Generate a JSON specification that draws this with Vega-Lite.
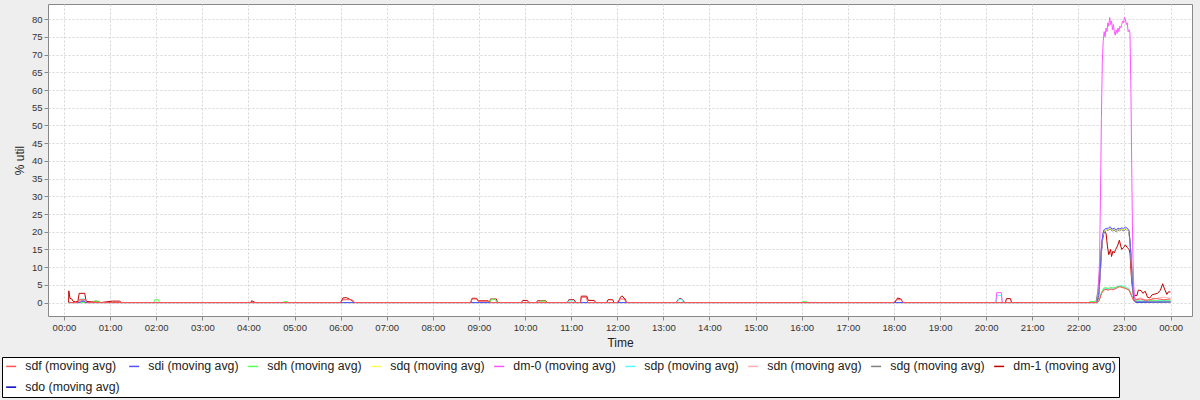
{
"$schema":"https://vega.github.io/schema/vega-lite/v6.json",
"width":1144,"height":312,
"autosize":{"type":"none"},
"padding":{"left":48,"top":4,"right":8,"bottom":84},
"background":"#EEEEEE",
"config":{"view":{"fill":"white","stroke":"#888888","strokeWidth":1},
"axis":{"labelFont":"Liberation Sans","titleFont":"Liberation Sans","labelColor":"#333333","titleColor":"#222222","titleFontWeight":"normal","gridColor":"#D6D6D6","gridDash":[2,2],"domain":false,"tickColor":"#888888","tickSize":4}},
"data":{"values":[
{"s":"sdo","h":0.1,"v":0},{"s":"sdo","h":0.35,"v":0},{"s":"sdo","h":0.37,"v":0.3},{"s":"sdo","h":0.44,"v":0.3},{"s":"sdo","h":0.46,"v":0},{"s":"sdo","h":22.40,"v":0},{"s":"sdo","h":22.44,"v":1.5},{"s":"sdo","h":22.47,"v":7},{"s":"sdo","h":22.5,"v":14},{"s":"sdo","h":22.53,"v":18.3},{"s":"sdo","h":22.56,"v":19.9},{"s":"sdo","h":22.6,"v":20.3},{"s":"sdo","h":22.65,"v":20.5},{"s":"sdo","h":22.69,"v":20.8},{"s":"sdo","h":22.73,"v":20.2},{"s":"sdo","h":22.78,"v":20.5},{"s":"sdo","h":22.82,"v":20.0},{"s":"sdo","h":22.86,"v":20.4},{"s":"sdo","h":22.9,"v":20.3},{"s":"sdo","h":22.94,"v":20.6},{"s":"sdo","h":22.98,"v":20.3},{"s":"sdo","h":23.02,"v":20.7},{"s":"sdo","h":23.06,"v":20.5},{"s":"sdo","h":23.1,"v":19.9},{"s":"sdo","h":23.13,"v":15},{"s":"sdo","h":23.17,"v":6},{"s":"sdo","h":23.2,"v":1},{"s":"sdo","h":23.24,"v":0.1},{"s":"sdo","h":24.0,"v":0.1},
{"s":"dm-1","h":0.1,"v":0},{"s":"dm-1","h":0.105,"v":3.3},{"s":"dm-1","h":0.13,"v":1.2},{"s":"dm-1","h":0.17,"v":1.0},{"s":"dm-1","h":0.2,"v":0.3},{"s":"dm-1","h":0.25,"v":0.2},{"s":"dm-1","h":0.3,"v":0.3},{"s":"dm-1","h":0.33,"v":2.6},{"s":"dm-1","h":0.45,"v":2.6},{"s":"dm-1","h":0.48,"v":0.3},{"s":"dm-1","h":0.6,"v":0.2},{"s":"dm-1","h":0.7,"v":0.4},{"s":"dm-1","h":0.8,"v":0},{"s":"dm-1","h":1.05,"v":0.4},{"s":"dm-1","h":1.2,"v":0.4},{"s":"dm-1","h":1.25,"v":0},{"s":"dm-1","h":4.05,"v":0},{"s":"dm-1","h":4.07,"v":0.5},{"s":"dm-1","h":4.15,"v":0},{"s":"dm-1","h":6.0,"v":0},{"s":"dm-1","h":6.05,"v":1.3},{"s":"dm-1","h":6.12,"v":1.4},{"s":"dm-1","h":6.22,"v":0.8},{"s":"dm-1","h":6.3,"v":0},{"s":"dm-1","h":8.82,"v":0},{"s":"dm-1","h":8.85,"v":1.2},{"s":"dm-1","h":8.95,"v":1.2},{"s":"dm-1","h":8.98,"v":0.5},{"s":"dm-1","h":9.2,"v":0.5},{"s":"dm-1","h":9.23,"v":0},{"s":"dm-1","h":9.25,"v":1.0},{"s":"dm-1","h":9.38,"v":1.0},{"s":"dm-1","h":9.4,"v":0},{"s":"dm-1","h":9.92,"v":0},{"s":"dm-1","h":9.95,"v":0.6},{"s":"dm-1","h":10.05,"v":0.6},{"s":"dm-1","h":10.08,"v":0},{"s":"dm-1","h":10.25,"v":0},{"s":"dm-1","h":10.27,"v":0.5},{"s":"dm-1","h":10.45,"v":0.5},{"s":"dm-1","h":10.48,"v":0},{"s":"dm-1","h":10.92,"v":0},{"s":"dm-1","h":10.95,"v":0.8},{"s":"dm-1","h":11.06,"v":0.8},{"s":"dm-1","h":11.1,"v":0},{"s":"dm-1","h":11.2,"v":0},{"s":"dm-1","h":11.22,"v":1.8},{"s":"dm-1","h":11.34,"v":1.8},{"s":"dm-1","h":11.37,"v":0.6},{"s":"dm-1","h":11.5,"v":0.6},{"s":"dm-1","h":11.53,"v":0},{"s":"dm-1","h":11.77,"v":0},{"s":"dm-1","h":11.8,"v":0.8},{"s":"dm-1","h":11.9,"v":0.8},{"s":"dm-1","h":11.93,"v":0},{"s":"dm-1","h":12.02,"v":0},{"s":"dm-1","h":12.07,"v":1.5},{"s":"dm-1","h":12.1,"v":1.9},{"s":"dm-1","h":12.17,"v":1.0},{"s":"dm-1","h":12.2,"v":0},{"s":"dm-1","h":13.28,"v":0},{"s":"dm-1","h":13.33,"v":1.0},{"s":"dm-1","h":13.38,"v":1.2},{"s":"dm-1","h":13.43,"v":0.5},{"s":"dm-1","h":13.46,"v":0},{"s":"dm-1","h":18.02,"v":0},{"s":"dm-1","h":18.08,"v":1.3},{"s":"dm-1","h":18.15,"v":1.0},{"s":"dm-1","h":18.2,"v":0},{"s":"dm-1","h":20.42,"v":0},{"s":"dm-1","h":20.44,"v":1.1},{"s":"dm-1","h":20.53,"v":1.1},{"s":"dm-1","h":20.55,"v":0},{"s":"dm-1","h":22.40,"v":0},{"s":"dm-1","h":22.43,"v":1.5},{"s":"dm-1","h":22.46,"v":7},{"s":"dm-1","h":22.51,"v":17},{"s":"dm-1","h":22.55,"v":20.3},{"s":"dm-1","h":22.6,"v":19.6},{"s":"dm-1","h":22.63,"v":16},{"s":"dm-1","h":22.66,"v":13.5},{"s":"dm-1","h":22.7,"v":15},{"s":"dm-1","h":22.72,"v":13},{"s":"dm-1","h":22.75,"v":14.5},{"s":"dm-1","h":22.78,"v":14},{"s":"dm-1","h":22.81,"v":15},{"s":"dm-1","h":22.85,"v":16},{"s":"dm-1","h":22.89,"v":17.6},{"s":"dm-1","h":22.91,"v":16.5},{"s":"dm-1","h":22.94,"v":15},{"s":"dm-1","h":22.98,"v":15.5},{"s":"dm-1","h":23.02,"v":16.3},{"s":"dm-1","h":23.06,"v":15.5},{"s":"dm-1","h":23.1,"v":15},{"s":"dm-1","h":23.12,"v":14},{"s":"dm-1","h":23.15,"v":7.3},{"s":"dm-1","h":23.18,"v":3},{"s":"dm-1","h":23.22,"v":2.0},{"s":"dm-1","h":23.27,"v":2.0},{"s":"dm-1","h":23.3,"v":3.5},{"s":"dm-1","h":23.36,"v":3.4},{"s":"dm-1","h":23.4,"v":2.6},{"s":"dm-1","h":23.45,"v":3.2},{"s":"dm-1","h":23.5,"v":1.5},{"s":"dm-1","h":23.55,"v":1.3},{"s":"dm-1","h":23.6,"v":2.2},{"s":"dm-1","h":23.66,"v":2.4},{"s":"dm-1","h":23.72,"v":2.6},{"s":"dm-1","h":23.78,"v":3.5},{"s":"dm-1","h":23.83,"v":5.3},{"s":"dm-1","h":23.87,"v":3.8},{"s":"dm-1","h":23.92,"v":2.3},{"s":"dm-1","h":23.95,"v":3.0},{"s":"dm-1","h":24.0,"v":3.0},
{"s":"sdg","h":0.1,"v":0},{"s":"sdg","h":22.38,"v":0},{"s":"sdg","h":22.42,"v":3},{"s":"sdg","h":22.46,"v":9},{"s":"sdg","h":22.5,"v":15.5},{"s":"sdg","h":22.53,"v":19},{"s":"sdg","h":22.56,"v":20.1},{"s":"sdg","h":22.6,"v":20.4},{"s":"sdg","h":22.65,"v":20.6},{"s":"sdg","h":22.69,"v":20.8},{"s":"sdg","h":22.73,"v":20.3},{"s":"sdg","h":22.78,"v":20.6},{"s":"sdg","h":22.82,"v":20.1},{"s":"sdg","h":22.86,"v":20.6},{"s":"sdg","h":22.9,"v":20.4},{"s":"sdg","h":22.94,"v":20.7},{"s":"sdg","h":22.98,"v":20.5},{"s":"sdg","h":23.02,"v":20.8},{"s":"sdg","h":23.06,"v":20.5},{"s":"sdg","h":23.1,"v":19.9},{"s":"sdg","h":23.13,"v":16},{"s":"sdg","h":23.17,"v":8},{"s":"sdg","h":23.21,"v":2},{"s":"sdg","h":23.25,"v":0.3},{"s":"sdg","h":24.0,"v":0.2},
{"s":"sdn","h":0.1,"v":0},{"s":"sdn","h":0.33,"v":0},{"s":"sdn","h":0.35,"v":0.6},{"s":"sdn","h":0.45,"v":0.6},{"s":"sdn","h":0.47,"v":0},{"s":"sdn","h":22.40,"v":0},{"s":"sdn","h":22.45,"v":0.5},{"s":"sdn","h":22.5,"v":2.5},{"s":"sdn","h":22.55,"v":3.6},{"s":"sdn","h":22.6,"v":3.7},{"s":"sdn","h":22.65,"v":3.6},{"s":"sdn","h":22.7,"v":3.8},{"s":"sdn","h":22.75,"v":3.7},{"s":"sdn","h":22.8,"v":4.0},{"s":"sdn","h":22.85,"v":4.3},{"s":"sdn","h":22.9,"v":4.6},{"s":"sdn","h":22.95,"v":4.4},{"s":"sdn","h":23.0,"v":4.2},{"s":"sdn","h":23.05,"v":3.9},{"s":"sdn","h":23.1,"v":3.4},{"s":"sdn","h":23.15,"v":2},{"s":"sdn","h":23.2,"v":0.6},{"s":"sdn","h":23.27,"v":1.0},{"s":"sdn","h":23.35,"v":1.3},{"s":"sdn","h":23.45,"v":0.8},{"s":"sdn","h":23.55,"v":0.6},{"s":"sdn","h":23.65,"v":1.0},{"s":"sdn","h":23.75,"v":1.3},{"s":"sdn","h":23.85,"v":1.5},{"s":"sdn","h":23.92,"v":1.4},{"s":"sdn","h":24.0,"v":1.2},
{"s":"sdp","h":0.1,"v":0},{"s":"sdp","h":0.33,"v":0},{"s":"sdp","h":0.35,"v":1.0},{"s":"sdp","h":0.45,"v":1.0},{"s":"sdp","h":0.47,"v":0},{"s":"sdp","h":10.93,"v":0},{"s":"sdp","h":10.95,"v":0.5},{"s":"sdp","h":11.05,"v":0.5},{"s":"sdp","h":11.07,"v":0},{"s":"sdp","h":13.3,"v":0},{"s":"sdp","h":13.33,"v":0.9},{"s":"sdp","h":13.4,"v":0.9},{"s":"sdp","h":13.43,"v":0},{"s":"sdp","h":20.22,"v":0},{"s":"sdp","h":20.24,"v":2.0},{"s":"sdp","h":20.33,"v":2.0},{"s":"sdp","h":20.35,"v":0},{"s":"sdp","h":22.40,"v":0},{"s":"sdp","h":22.45,"v":0.6},{"s":"sdp","h":22.5,"v":2.8},{"s":"sdp","h":22.55,"v":3.9},{"s":"sdp","h":22.6,"v":4.0},{"s":"sdp","h":22.65,"v":3.9},{"s":"sdp","h":22.7,"v":4.1},{"s":"sdp","h":22.75,"v":4.0},{"s":"sdp","h":22.8,"v":4.3},{"s":"sdp","h":22.85,"v":4.5},{"s":"sdp","h":22.9,"v":4.7},{"s":"sdp","h":22.95,"v":4.8},{"s":"sdp","h":23.0,"v":4.5},{"s":"sdp","h":23.05,"v":4.2},{"s":"sdp","h":23.1,"v":3.8},{"s":"sdp","h":23.15,"v":2.2},{"s":"sdp","h":23.2,"v":0.8},{"s":"sdp","h":23.25,"v":0.4},{"s":"sdp","h":23.4,"v":0.5},{"s":"sdp","h":23.6,"v":0.3},{"s":"sdp","h":23.8,"v":0.6},{"s":"sdp","h":24.0,"v":0.4},
{"s":"dm-0","h":0.1,"v":0},{"s":"dm-0","h":20.21,"v":0},{"s":"dm-0","h":20.23,"v":2.8},{"s":"dm-0","h":20.33,"v":2.8},{"s":"dm-0","h":20.35,"v":0},{"s":"dm-0","h":22.40,"v":0},{"s":"dm-0","h":22.43,"v":2},{"s":"dm-0","h":22.46,"v":12},{"s":"dm-0","h":22.48,"v":30},{"s":"dm-0","h":22.5,"v":52},{"s":"dm-0","h":22.52,"v":68},{"s":"dm-0","h":22.54,"v":74},{"s":"dm-0","h":22.56,"v":76.5},{"s":"dm-0","h":22.58,"v":75},{"s":"dm-0","h":22.6,"v":77.5},{"s":"dm-0","h":22.62,"v":76.5},{"s":"dm-0","h":22.64,"v":79},{"s":"dm-0","h":22.66,"v":78},{"s":"dm-0","h":22.68,"v":80.5},{"s":"dm-0","h":22.7,"v":78.5},{"s":"dm-0","h":22.72,"v":79.5},{"s":"dm-0","h":22.74,"v":77},{"s":"dm-0","h":22.76,"v":78.5},{"s":"dm-0","h":22.78,"v":76.5},{"s":"dm-0","h":22.8,"v":75.5},{"s":"dm-0","h":22.82,"v":77},{"s":"dm-0","h":22.84,"v":76},{"s":"dm-0","h":22.86,"v":77.5},{"s":"dm-0","h":22.88,"v":76.5},{"s":"dm-0","h":22.9,"v":78},{"s":"dm-0","h":22.92,"v":77.5},{"s":"dm-0","h":22.94,"v":78.5},{"s":"dm-0","h":22.96,"v":79.5},{"s":"dm-0","h":22.98,"v":79},{"s":"dm-0","h":23.0,"v":80.5},{"s":"dm-0","h":23.02,"v":80},{"s":"dm-0","h":23.04,"v":78.5},{"s":"dm-0","h":23.06,"v":79},{"s":"dm-0","h":23.08,"v":76.5},{"s":"dm-0","h":23.1,"v":77},{"s":"dm-0","h":23.12,"v":76},{"s":"dm-0","h":23.14,"v":60},{"s":"dm-0","h":23.16,"v":35},{"s":"dm-0","h":23.18,"v":15},{"s":"dm-0","h":23.2,"v":5},{"s":"dm-0","h":23.22,"v":1},{"s":"dm-0","h":23.25,"v":0.3},{"s":"dm-0","h":24.0,"v":0.3},
{"s":"sdq","h":0.1,"v":0},{"s":"sdq","h":0.35,"v":0},{"s":"sdq","h":0.37,"v":0.2},{"s":"sdq","h":0.44,"v":0.2},{"s":"sdq","h":0.46,"v":0},{"s":"sdq","h":22.40,"v":0},{"s":"sdq","h":22.44,"v":1.8},{"s":"sdq","h":22.47,"v":7.5},{"s":"sdq","h":22.5,"v":14.5},{"s":"sdq","h":22.53,"v":18.8},{"s":"sdq","h":22.56,"v":20.2},{"s":"sdq","h":22.6,"v":20.3},{"s":"sdq","h":22.65,"v":20.6},{"s":"sdq","h":22.69,"v":20.9},{"s":"sdq","h":22.73,"v":20.3},{"s":"sdq","h":22.78,"v":20.6},{"s":"sdq","h":22.82,"v":20.1},{"s":"sdq","h":22.86,"v":20.5},{"s":"sdq","h":22.9,"v":20.4},{"s":"sdq","h":22.94,"v":20.6},{"s":"sdq","h":22.98,"v":20.5},{"s":"sdq","h":23.02,"v":20.8},{"s":"sdq","h":23.06,"v":20.4},{"s":"sdq","h":23.1,"v":19.9},{"s":"sdq","h":23.13,"v":15},{"s":"sdq","h":23.17,"v":6},{"s":"sdq","h":23.2,"v":1},{"s":"sdq","h":23.24,"v":0.3},{"s":"sdq","h":24.0,"v":0.2},
{"s":"sdh","h":0.1,"v":0},{"s":"sdh","h":0.62,"v":0},{"s":"sdh","h":0.64,"v":0.4},{"s":"sdh","h":0.77,"v":0.4},{"s":"sdh","h":0.79,"v":0},{"s":"sdh","h":1.95,"v":0},{"s":"sdh","h":1.97,"v":0.8},{"s":"sdh","h":2.05,"v":0.8},{"s":"sdh","h":2.07,"v":0},{"s":"sdh","h":4.75,"v":0},{"s":"sdh","h":4.77,"v":0.3},{"s":"sdh","h":4.85,"v":0.3},{"s":"sdh","h":4.87,"v":0},{"s":"sdh","h":9.24,"v":0},{"s":"sdh","h":9.26,"v":0.9},{"s":"sdh","h":9.36,"v":0.9},{"s":"sdh","h":9.38,"v":0},{"s":"sdh","h":10.3,"v":0},{"s":"sdh","h":10.32,"v":0.4},{"s":"sdh","h":10.45,"v":0.4},{"s":"sdh","h":10.47,"v":0},{"s":"sdh","h":16.0,"v":0},{"s":"sdh","h":16.02,"v":0.3},{"s":"sdh","h":16.1,"v":0.3},{"s":"sdh","h":16.12,"v":0},{"s":"sdh","h":22.22,"v":0},{"s":"sdh","h":22.25,"v":0.3},{"s":"sdh","h":22.38,"v":0.3},{"s":"sdh","h":22.40,"v":0},{"s":"sdh","h":22.45,"v":0.6},{"s":"sdh","h":22.5,"v":2.7},{"s":"sdh","h":22.55,"v":4.1},{"s":"sdh","h":22.6,"v":4.2},{"s":"sdh","h":22.65,"v":4.0},{"s":"sdh","h":22.7,"v":4.3},{"s":"sdh","h":22.75,"v":4.1},{"s":"sdh","h":22.8,"v":4.2},{"s":"sdh","h":22.85,"v":4.5},{"s":"sdh","h":22.9,"v":4.6},{"s":"sdh","h":22.95,"v":4.5},{"s":"sdh","h":23.0,"v":4.3},{"s":"sdh","h":23.05,"v":4.0},{"s":"sdh","h":23.1,"v":3.7},{"s":"sdh","h":23.15,"v":2.1},{"s":"sdh","h":23.2,"v":0.7},{"s":"sdh","h":23.25,"v":0.5},{"s":"sdh","h":23.4,"v":0.3},{"s":"sdh","h":23.6,"v":0.6},{"s":"sdh","h":23.8,"v":0.4},{"s":"sdh","h":24.0,"v":0.5},
{"s":"sdi","h":0.1,"v":0},{"s":"sdi","h":0.35,"v":0},{"s":"sdi","h":0.37,"v":0.4},{"s":"sdi","h":0.44,"v":0.4},{"s":"sdi","h":0.46,"v":0},{"s":"sdi","h":22.40,"v":0},{"s":"sdi","h":22.44,"v":2},{"s":"sdi","h":22.47,"v":8},{"s":"sdi","h":22.5,"v":15},{"s":"sdi","h":22.53,"v":19.2},{"s":"sdi","h":22.56,"v":20.6},{"s":"sdi","h":22.6,"v":20.9},{"s":"sdi","h":22.65,"v":21.0},{"s":"sdi","h":22.69,"v":21.4},{"s":"sdi","h":22.73,"v":20.7},{"s":"sdi","h":22.78,"v":21.0},{"s":"sdi","h":22.82,"v":20.5},{"s":"sdi","h":22.86,"v":21.0},{"s":"sdi","h":22.9,"v":20.8},{"s":"sdi","h":22.94,"v":21.1},{"s":"sdi","h":22.98,"v":20.9},{"s":"sdi","h":23.02,"v":21.3},{"s":"sdi","h":23.06,"v":21.0},{"s":"sdi","h":23.1,"v":20.4},{"s":"sdi","h":23.13,"v":15.5},{"s":"sdi","h":23.17,"v":6},{"s":"sdi","h":23.2,"v":1},{"s":"sdi","h":23.23,"v":0.2},{"s":"sdi","h":24.0,"v":0.2},
{"s":"sdf","h":0.1,"v":0},{"s":"sdf","h":0.3,"v":0},{"s":"sdf","h":0.33,"v":0.8},{"s":"sdf","h":0.46,"v":0.8},{"s":"sdf","h":0.5,"v":0},{"s":"sdf","h":6.0,"v":0},{"s":"sdf","h":6.05,"v":0.8},{"s":"sdf","h":6.25,"v":0.8},{"s":"sdf","h":6.3,"v":0},{"s":"sdf","h":8.82,"v":0},{"s":"sdf","h":8.85,"v":1.0},{"s":"sdf","h":8.95,"v":1.0},{"s":"sdf","h":8.98,"v":0.4},{"s":"sdf","h":9.2,"v":0.4},{"s":"sdf","h":9.23,"v":0},{"s":"sdf","h":11.2,"v":0},{"s":"sdf","h":11.22,"v":1.5},{"s":"sdf","h":11.33,"v":1.5},{"s":"sdf","h":11.36,"v":0},{"s":"sdf","h":12.0,"v":0},{"s":"sdf","h":12.05,"v":1.0},{"s":"sdf","h":12.15,"v":1.0},{"s":"sdf","h":12.2,"v":0},{"s":"sdf","h":18.0,"v":0},{"s":"sdf","h":18.05,"v":0.8},{"s":"sdf","h":18.15,"v":0.8},{"s":"sdf","h":18.2,"v":0},{"s":"sdf","h":22.40,"v":0},{"s":"sdf","h":22.45,"v":0.5},{"s":"sdf","h":22.5,"v":2.5},{"s":"sdf","h":22.55,"v":3.5},{"s":"sdf","h":22.6,"v":3.7},{"s":"sdf","h":22.65,"v":3.5},{"s":"sdf","h":22.7,"v":3.8},{"s":"sdf","h":22.75,"v":3.6},{"s":"sdf","h":22.8,"v":3.9},{"s":"sdf","h":22.85,"v":4.2},{"s":"sdf","h":22.9,"v":4.5},{"s":"sdf","h":22.95,"v":4.2},{"s":"sdf","h":23.0,"v":4.1},{"s":"sdf","h":23.05,"v":3.8},{"s":"sdf","h":23.1,"v":3.5},{"s":"sdf","h":23.15,"v":2.0},{"s":"sdf","h":23.2,"v":0.5},{"s":"sdf","h":23.25,"v":0.8},{"s":"sdf","h":23.35,"v":1.0},{"s":"sdf","h":23.45,"v":0.6},{"s":"sdf","h":23.55,"v":0.8},{"s":"sdf","h":23.65,"v":1.2},{"s":"sdf","h":23.75,"v":1.0},{"s":"sdf","h":23.85,"v":0.8},{"s":"sdf","h":24.0,"v":1.0}
]},
"encoding":{
"x":{"field":"h","type":"quantitative","scale":{"domain":[-0.347,24.465],"nice":false,"zero":false},
"axis":{"title":"Time","values":[0,1,2,3,4,5,6,7,8,9,10,11,12,13,14,15,16,17,18,19,20,21,22,23,24],"labelExpr":"(datum.value % 24 < 10 ? '0' : '') + (datum.value % 24) + ':00'","labelFontSize":9.5,"titleFontSize":12,"labelPadding":2,"titlePadding":6,"grid":true}},
"y":{"field":"v","type":"quantitative","scale":{"domain":[-3.8,84.3],"nice":false,"zero":false},
"axis":{"title":"% util","values":[0,5,10,15,20,25,30,35,40,45,50,55,60,65,70,75,80],"labelFontSize":9.5,"titleFontSize":12,"titlePadding":5,"labelPadding":2,"grid":true}},
"color":{"field":"s","type":"nominal",
"scale":{"domain":["sdf","sdi","sdh","sdq","dm-0","sdp","sdn","sdg","dm-1","sdo"],"range":["#FF5555","#5555FF","#55FF55","#FFFF55","#FF55FF","#55FFFF","#FFAFAF","#808080","#C00000","#0000C0"]},
"legend":{"title":null,"orient":"none","direction":"horizontal","gridAlign":"each","legendX":-46,"legendY":353,"columns":9,"symbolType":"stroke","symbolSize":100,"symbolStrokeWidth":1.5,"labelFont":"Liberation Sans","labelFontSize":12.3,"labelColor":"#222222","labelOffset":8,"columnPadding":6,"rowPadding":8,"padding":3,"strokeColor":"#000000","fillColor":"#FFFFFF","labelExpr":"datum.label + ' (moving avg)'","labelLimit":300}}
},
"layer":[
{"transform":[{"filter":"datum.s === 'sdo'"}],"mark":{"type":"line","strokeWidth":1}},
{"transform":[{"filter":"datum.s === 'dm-1'"}],"mark":{"type":"line","strokeWidth":1}},
{"transform":[{"filter":"datum.s === 'sdg'"}],"mark":{"type":"line","strokeWidth":1}},
{"transform":[{"filter":"datum.s === 'sdn'"}],"mark":{"type":"line","strokeWidth":1}},
{"transform":[{"filter":"datum.s === 'sdp'"}],"mark":{"type":"line","strokeWidth":1}},
{"transform":[{"filter":"datum.s === 'dm-0'"}],"mark":{"type":"line","strokeWidth":1}},
{"transform":[{"filter":"datum.s === 'sdq'"}],"mark":{"type":"line","strokeWidth":1}},
{"transform":[{"filter":"datum.s === 'sdh'"}],"mark":{"type":"line","strokeWidth":1}},
{"transform":[{"filter":"datum.s === 'sdi'"}],"mark":{"type":"line","strokeWidth":1}},
{"transform":[{"filter":"datum.s === 'sdf'"}],"mark":{"type":"line","strokeWidth":1}}
]
}
